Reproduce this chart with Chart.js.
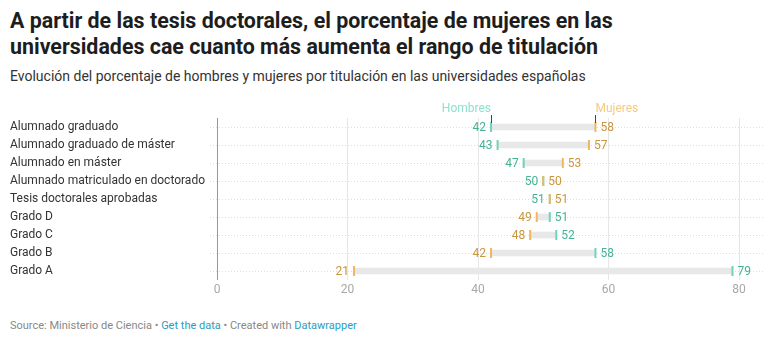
<!DOCTYPE html>
<html>
<head>
<meta charset="utf-8">
<script src="https://cdn.jsdelivr.net/npm/chart.js@4"></script>
<style>
  body { margin: 0; background: #fff; font-family: Roboto, sans-serif; width: 763px; height: 342px; position: relative; overflow: hidden; }
  h1 { position: absolute; left: 10px; top: 8px; margin: 0; font-size: 21.4px; line-height: 26px; font-weight: 700; color: #1d1d1d; }
  .sub { position: absolute; left: 10px; top: 68px; font-size: 14px; color: #333; }
  .foot { position: absolute; left: 10px; top: 319px; font-size: 11px; color: #888; }
  .foot a { color: #2a9dbd; text-decoration: none; }
  #chart { position: absolute; left: 0; top: 91px; }
</style>
</head>
<body>
<h1>A partir de las tesis doctorales, el porcentaje de mujeres en las<br>universidades cae cuanto más aumenta el rango de titulación</h1>
<div class="sub">Evolución del porcentaje de hombres y mujeres por titulación en las universidades españolas</div>
<canvas id="chart" width="763" height="212"></canvas>
<div class="foot">Source: Ministerio de Ciencia • <a>Get the data</a> • Created with <a>Datawrapper</a></div>
<script>
const categories = ["Alumnado graduado", "Alumnado graduado de máster", "Alumnado en máster",
  "Alumnado matriculado en doctorado", "Tesis doctorales aprobadas", "Grado D", "Grado C", "Grado B", "Grado A"];
const hombres = [42, 43, 47, 50, 51, 51, 52, 58, 79];
const mujeres = [58, 57, 53, 50, 51, 49, 48, 42, 21];
const xTicks = [0, 20, 40, 60, 80];

const teal = "#6fd3bb", tealText = "#45b295", tealHead = "#8fe0cc";
const gold = "#efb75f", goldText = "#c9953f", goldHead = "#f4ca84";

const ranges = categories.map((c, i) => [Math.min(hombres[i], mujeres[i]), Math.max(hombres[i], mujeres[i])]);

// dotted row guides, value labels and the series headers
const rangeLabels = {
  id: "rangeLabels",
  beforeDatasetsDraw(chart) {
    const ctx = chart.ctx, y = chart.scales.y;
    ctx.save();
    ctx.strokeStyle = "#dedede";
    ctx.lineWidth = 1;
    ctx.setLineDash([1, 2]);
    categories.forEach((c, i) => {
      const py = Math.round(y.getPixelForValue(i)) + 0.5;
      ctx.beginPath();
      ctx.moveTo(210, py);
      ctx.lineTo(chart.width, py);
      ctx.stroke();
    });
    ctx.restore();
  },
  afterDatasetsDraw(chart) {
    const ctx = chart.ctx, x = chart.scales.x, y = chart.scales.y;
    ctx.save();
    ctx.font = "12px Roboto";
    ctx.textBaseline = "middle";
    categories.forEach((c, i) => {
      const py = y.getPixelForValue(i) + 0.5;
      const hLeft = hombres[i] <= mujeres[i];
      const lo = hLeft ? hombres[i] : mujeres[i];
      const hi = hLeft ? mujeres[i] : hombres[i];
      ctx.textAlign = "right";
      ctx.fillStyle = hLeft ? tealText : goldText;
      ctx.fillText(String(lo), x.getPixelForValue(lo) - 5, py);
      ctx.textAlign = "left";
      ctx.fillStyle = hLeft ? goldText : tealText;
      ctx.fillText(String(hi), x.getPixelForValue(hi) + 5, py);
    });
    // headers above the first row
    const top = y.getPixelForValue(0);
    const hx = x.getPixelForValue(hombres[0]), mx = x.getPixelForValue(mujeres[0]);
    ctx.strokeStyle = "#444";
    ctx.lineWidth = 1;
    [hx, mx].forEach(px => {
      ctx.beginPath();
      ctx.moveTo(Math.round(px) + 0.5, top - 12);
      ctx.lineTo(Math.round(px) + 0.5, top - 4);
      ctx.stroke();
    });
    ctx.textBaseline = "alphabetic";
    ctx.textAlign = "right";
    ctx.fillStyle = tealHead;
    ctx.fillText("Hombres", hx, top - 15);
    ctx.textAlign = "left";
    ctx.fillStyle = goldHead;
    ctx.fillText("Mujeres", mx, top - 15);
    ctx.restore();
  }
};

new Chart(document.getElementById("chart"), {
  type: "bar",
  data: {
    labels: categories,
    datasets: [
      {
        label: "Rango",
        data: ranges,
        backgroundColor: "#e8e8e8",
        barThickness: 6,
        order: 2
      },
      {
        type: "line",
        label: "Hombres",
        data: hombres,
        showLine: false,
        pointStyle: "line",
        rotation: 90,
        pointRadius: 5,
        borderWidth: 2,
        borderColor: teal,
        order: 1
      },
      {
        type: "line",
        label: "Mujeres",
        data: mujeres,
        showLine: false,
        pointStyle: "line",
        rotation: 90,
        pointRadius: 5,
        borderWidth: 2,
        borderColor: gold,
        order: 0
      }
    ]
  },
  options: {
    indexAxis: "y",
    responsive: false,
    animation: false,
    layout: { padding: { left: 10, right: 24, top: 27, bottom: 0 } },
    plugins: { legend: { display: false }, tooltip: { enabled: false } },
    scales: {
      x: {
        min: 0,
        max: 80,
        afterBuildTicks: s => { s.ticks = xTicks.map(v => ({ value: v })); },
        border: { display: false },
        grid: {
          drawTicks: false,
          color: c => c.tick && c.tick.value === 0 ? "#999" : "#e6e6e6"
        },
        ticks: { color: "#a8a8a8", font: { family: "Roboto", size: 12 }, padding: 3 },
        afterFit: s => { s.height = 23; }
      },
      y: {
        border: { display: false },
        grid: { display: false, drawTicks: false },
        ticks: { color: "#333", crossAlign: "far", font: { family: "Roboto", size: 12 } },
        afterFit: s => { s.width = 207; }
      }
    }
  },
  plugins: [rangeLabels]
});
</script>
</body>
</html>
